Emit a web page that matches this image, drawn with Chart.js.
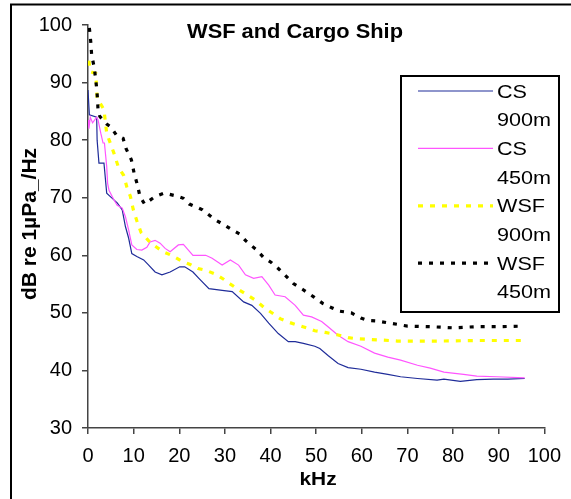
<!DOCTYPE html>
<html>
<head>
<meta charset="utf-8">
<script src="https://cdn.jsdelivr.net/npm/chart.js@4/dist/chart.umd.min.js"></script>
<style>
  html, body { margin: 0; padding: 0; background: #fff; }
  canvas { display: block; }
</style>
</head>
<body>
<canvas id="c" width="571" height="499"></canvas>
<script>
// Underwater noise spectra: frequency (kHz) vs level (dB re 1µPa/√Hz)
const chartTitle = "WSF and Cargo Ship";
const xTitle = "kHz";
const yTitle = "dB re 1µPa_/Hz";
const seriesNames = ["CS 900m", "CS 450m", "WSF 900m", "WSF 450m"];

const cs900Freq = [0, 0.3, 1.9, 2.0, 2.4, 3.5, 4.1, 4.9, 6.4, 7.5, 8.2, 8.9, 9.6, 10.7, 12.2, 13.3, 14.7, 16.2, 18, 20.1, 21.2, 23, 24.3, 26.5, 29.4, 31.6, 34.1, 35.9, 37.8, 39.6, 41.7, 43.9, 45.4, 47.2, 49.7, 50.8, 52.6, 54.8, 57, 59.8, 62.8, 65.7, 68.5, 72.2, 76.5, 78, 81.6, 85.2, 88.8, 92, 95.7];
const cs900dB   = [88.7, 84.4, 84, 80, 76, 76, 70.8, 70.2, 69.1, 67.9, 65, 63, 60.3, 59.8, 59.2, 58.3, 57.1, 56.6, 57.1, 58, 58, 57.1, 56, 54.2, 53.9, 53.7, 51.9, 51.3, 49.9, 48.2, 46.4, 45, 45, 44.7, 44.2, 43.8, 42.6, 41.2, 40.5, 40.2, 39.7, 39.3, 38.9, 38.6, 38.3, 38.5, 38.1, 38.4, 38.5, 38.5, 38.6];

const cs450Freq = [0, 0.2, 0.5, 1.0, 1.9, 2.2, 2.8, 3.3, 3.6, 4.1, 4.3, 4.6, 5.3, 5.7, 6.4, 7.5, 8.2, 8.9, 9.6, 10.7, 11.8, 12.9, 13.6, 14.7, 15.8, 16.9, 18, 19.8, 20.9, 22, 23, 24.3, 25.8, 27.2, 29.4, 31.2, 33, 34.5, 36.3, 38.1, 39.6, 41, 43.2, 45.4, 47.2, 49, 51.2, 52.6, 54.8, 57, 59.8, 62.8, 65.7, 68.5, 72.2, 75, 78, 82.3, 85.2, 89.6, 95.7];
const cs450dB   = [83.5, 82, 84, 83, 84, 83.5, 81.2, 79.5, 79.5, 75.4, 72.5, 71.3, 70.2, 69.6, 68.7, 68.2, 66.7, 64.4, 61.8, 61, 60.9, 61.4, 62.3, 62.6, 62.1, 61.2, 60.6, 61.8, 61.9, 60.9, 60, 60, 60, 59.5, 58.3, 59.2, 58.3, 56.6, 56, 56.3, 54.8, 53.1, 52.8, 51.3, 49.6, 49.3, 48.5, 47.6, 46.1, 45, 44.2, 43, 42.3, 41.8, 40.9, 40.4, 39.7, 39.3, 39, 38.9, 38.7];

const wsf900Freq = [0.2, 0.5, 1.7, 2.0, 3.5, 3.8, 4.1, 5.7, 6.7, 7.8, 8.5, 9.3, 9.9, 10.7, 11.6, 13.3, 14.7, 16.5, 18.3, 20.7, 22.4, 24.1, 25.8, 28, 29.8, 31.2, 32.7, 34.3, 36.7, 38.8, 40.7, 42.1, 43.9, 45.4, 47.9, 49.7, 52, 54.6, 57, 58.8, 61.3, 63.8, 67.8, 72.2, 77.2, 85, 95.3];
const wsf900dB   = [93.8, 91.9, 91.6, 87.3, 85.3, 83.2, 81.2, 77.7, 75.2, 73.9, 71.9, 70.2, 68, 66, 64, 62.5, 61.6, 60.6, 60, 58.9, 58.4, 57.7, 57.4, 56.7, 55.8, 55, 54.2, 53.4, 52.2, 50.8, 49.8, 49, 48.4, 48, 47.4, 46.9, 46.6, 46.2, 45.7, 45.5, 45.4, 45.3, 45.1, 45.1, 45.1, 45.2, 45.2];

const wsf450Freq = [0.3, 0.6, 0.8, 1.4, 1.9, 2.1, 2.2, 2.6, 4.1, 5, 6.2, 7.7, 8.3, 9.5, 10.1, 10.8, 11.4, 12.4, 14.7, 16.7, 19.4, 20.9, 22.2, 24, 25.1, 26.2, 27.8, 29.6, 31.4, 33.2, 34.6, 37, 38.5, 40.1, 41.7, 43.5, 45, 47, 49.6, 51.5, 53.4, 55.1, 57.7, 59.8, 61.3, 63.3, 65.5, 67.8, 70, 75, 80, 85, 90, 95.5];
const wsf450dB   = [99.5, 97.1, 94.8, 92.5, 89, 87, 85.1, 84.1, 82.8, 82.3, 80.9, 80.3, 78.6, 76.6, 74.3, 72.3, 70.2, 68.9, 70.2, 70.8, 70.3, 69.9, 68.9, 68.3, 67.9, 67.2, 66.2, 65.4, 64.5, 63.7, 62.5, 60.9, 59.6, 58.8, 57.7, 56.3, 55.1, 54.1, 52.7, 51.6, 50.9, 50.3, 50, 49.1, 48.7, 48.6, 48.3, 48, 47.7, 47.6, 47.4, 47.6, 47.6, 47.7];

const xTicks = [0, 10, 20, 30, 40, 50, 60, 70, 80, 90, 100];
const yTicks = [30, 40, 50, 60, 70, 80, 90, 100];

const FONT = "'Liberation Sans', Arial, sans-serif";

function pairs(xs, ys) { return xs.map((x, i) => ({ x: x, y: ys[i] })); }

const styles = [
  { color: '#1f2c99', width: 1.2, dash: [] },
  { color: '#ff55ff', width: 1.2, dash: [] },
  { color: '#ffff00', width: 3.2, dash: [5, 7] },
  { color: '#000000', width: 3.2, dash: [4, 7] }
];

const dataPairs = [
  pairs(cs900Freq, cs900dB),
  pairs(cs450Freq, cs450dB),
  pairs(wsf900Freq, wsf900dB),
  pairs(wsf450Freq, wsf450dB)
];

// Draw text with a horizontal stretch factor
function stretchedText(ctx, text, x, y, sx, align) {
  ctx.save();
  ctx.translate(x, y);
  ctx.scale(sx, 1);
  ctx.textAlign = align || 'left';
  ctx.fillText(text, 0, 0);
  ctx.restore();
}

const decorations = {
  id: 'decorations',
  afterDraw(chart) {
    const ctx = chart.ctx;
    ctx.save();

    // frame (left and top edges)
    ctx.strokeStyle = '#000';
    ctx.lineWidth = 2;
    ctx.beginPath();
    ctx.moveTo(11, 499);
    ctx.lineTo(11, 4.5);
    ctx.lineTo(571, 4.5);
    ctx.stroke();

    ctx.fillStyle = '#000';
    ctx.textBaseline = 'alphabetic';

    // title
    ctx.font = 'bold 21px ' + FONT;
    stretchedText(ctx, chartTitle, 295, 38, 1.04, 'center');

    // x axis title
    ctx.font = 'bold 19px ' + FONT;
    stretchedText(ctx, xTitle, 318, 485, 1.1, 'center');

    // y axis title
    ctx.save();
    ctx.translate(36, 224);
    ctx.rotate(-Math.PI / 2);
    ctx.font = 'bold 20px ' + FONT;
    stretchedText(ctx, yTitle, 0, 0, 1.05, 'center');
    ctx.restore();

    // legend box
    ctx.strokeStyle = '#000';
    ctx.lineWidth = 2;
    ctx.strokeRect(401, 76, 158, 236);

    const lineH = 28.7;
    ctx.font = '18px ' + FONT;
    seriesNames.forEach((name, i) => {
      const parts = name.split(' ');
      const yc = 91 + i * 2 * lineH;
      const st = styles[i];
      ctx.save();
      ctx.strokeStyle = st.color;
      ctx.lineWidth = st.width;
      ctx.setLineDash(st.dash);
      ctx.beginPath();
      ctx.moveTo(418, yc);
      ctx.lineTo(493, yc);
      ctx.stroke();
      ctx.restore();
      ctx.fillStyle = '#000';
      stretchedText(ctx, parts[0], 497, yc + 6.5, 1.2, 'left');
      stretchedText(ctx, parts[1], 497, yc + lineH + 6.5, 1.2, 'left');
    });

    ctx.restore();
  }
};

const axisColor = '#444';

new Chart(document.getElementById('c'), {
  type: 'line',
  data: {
    datasets: seriesNames.map((name, i) => ({
      label: name,
      data: dataPairs[i],
      borderColor: styles[i].color,
      borderWidth: styles[i].width,
      borderDash: styles[i].dash,
      borderCapStyle: 'butt',
      pointRadius: 0,
      tension: 0,
      fill: false,
      order: 4 - i
    }))
  },
  options: {
    responsive: false,
    animation: false,
    events: [],
    layout: { padding: { top: 25, right: 23, left: 0, bottom: 0 } },
    plugins: {
      legend: { display: false },
      title: { display: false },
      tooltip: { enabled: false }
    },
    scales: {
      x: {
        type: 'linear',
        min: 0,
        max: 100,
        afterBuildTicks(scale) { scale.ticks = xTicks.map(v => ({ value: v })); },
        afterFit(scale) { scale.height = 71; },
        border: { color: axisColor, width: 1.5 },
        grid: { drawOnChartArea: false, drawTicks: true, tickLength: 6, color: axisColor, lineWidth: 1.5 },
        ticks: { color: '#000', font: { family: FONT, size: 20 }, padding: 10, maxRotation: 0 }
      },
      y: {
        type: 'linear',
        min: 30,
        max: 100,
        afterBuildTicks(scale) { scale.ticks = yTicks.map(v => ({ value: v })); },
        afterFit(scale) { scale.width = 88; },
        border: { color: axisColor, width: 1.5 },
        grid: { drawOnChartArea: false, drawTicks: true, tickLength: 6, color: axisColor, lineWidth: 1.5 },
        ticks: { color: '#000', font: { family: FONT, size: 20 }, padding: 10 }
      }
    }
  },
  plugins: [decorations]
});
</script>
</body>
</html>
